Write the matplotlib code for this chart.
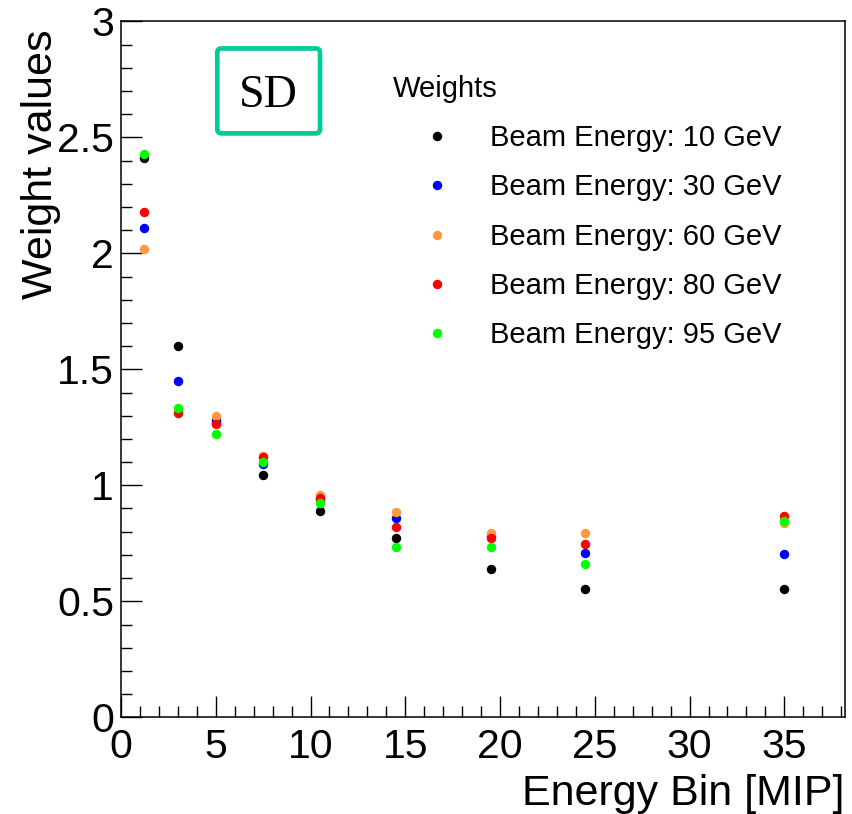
import matplotlib
matplotlib.use("Agg")
import matplotlib.pyplot as plt
from matplotlib.patches import FancyBboxPatch
from matplotlib.ticker import MultipleLocator

# ---- data ----
energy_bins = [1.2, 3, 5, 7.5, 10.5, 14.5, 19.5, 24.5, 35]
w_10GeV = [2.41, 1.60, 1.27, 1.045, 0.89, 0.775, 0.64, 0.553, 0.553]
w_30GeV = [2.11, 1.45, 1.28, 1.093, 0.94, 0.86, 0.78, 0.71, 0.705]
w_60GeV = [2.02, 1.32, 1.30, 1.125, 0.96, 0.885, 0.795, 0.795, 0.838]
w_80GeV = [2.18, 1.31, 1.265, 1.12, 0.945, 0.82, 0.775, 0.747, 0.866]
w_95GeV = [2.43, 1.335, 1.22, 1.10, 0.923, 0.734, 0.734, 0.659, 0.848]
series_labels = ["Beam Energy: 10 GeV", "Beam Energy: 30 GeV", "Beam Energy: 60 GeV",
                 "Beam Energy: 80 GeV", "Beam Energy: 95 GeV"]
series_colors = ["#000000", "#0000FF", "#FF9A3C", "#FF0000", "#00FF00"]
legend_title = "Weights"
tag_text = "SD"
x_label = "Energy Bin [MIP]"
y_label = "Weight values"

plt.rcParams['font.family'] = ['Liberation Sans', 'DejaVu Sans']

fig = plt.figure(figsize=(8.53, 8.14), dpi=100)
ax = fig.add_axes([121/853, 1-717.3/814, 724/853, 696/814])

for vals, lab, col in zip([w_10GeV, w_30GeV, w_60GeV, w_80GeV, w_95GeV], series_labels, series_colors):
    ax.plot(energy_bins, vals, linestyle='none', marker='o', markersize=6.8,
            markeredgewidth=0, color=col, label=lab, clip_on=False)

ax.set_xlim(0, 38.2)
ax.set_ylim(0, 3)
ax.xaxis.set_major_locator(MultipleLocator(5))
ax.xaxis.set_minor_locator(MultipleLocator(1))
ax.yaxis.set_major_locator(MultipleLocator(0.5))
ax.yaxis.set_minor_locator(MultipleLocator(0.1))
ax.yaxis.set_major_formatter(plt.FuncFormatter(lambda v, p: f"{v:g}"))

ax.tick_params(which='both', direction='in', top=False, right=False, width=1.0, labelsize=29.5)
ax.tick_params(which='major', length=15)
ax.tick_params(which='minor', length=7.7)
ax.tick_params(axis='x', pad=8)
ax.tick_params(axis='y', pad=5)
for s in ax.spines.values():
    s.set_linewidth(1.1)

ax.set_xlabel(x_label, fontsize=31, loc='right')
ax.xaxis.set_label_coords(1.0, -0.081)
ax.set_ylabel(y_label, fontsize=31, loc='top')
ax.yaxis.set_label_coords(-0.083, 0.9875)

# SD tag box
box = FancyBboxPatch((0.133, 0.839), 0.1419, 0.122, boxstyle="round,pad=0,rounding_size=0.006",
                     transform=ax.transAxes, facecolor='white', edgecolor='#00CC99',
                     linewidth=3.4, zorder=5)
ax.add_patch(box)
ax.text(0.2039, 0.877, tag_text, transform=ax.transAxes, ha='center', va='baseline',
        fontsize=33, family='Liberation Serif', zorder=6)

leg = ax.legend(title=legend_title, loc='upper left', bbox_to_anchor=(0.3757, 0.923),
                frameon=False, fontsize=21, title_fontsize=21, borderpad=0, borderaxespad=0,
                handlelength=3.05, handletextpad=0.27, labelspacing=0.73, numpoints=1,
                alignment='left')

fig.savefig("out.png", dpi=100)
